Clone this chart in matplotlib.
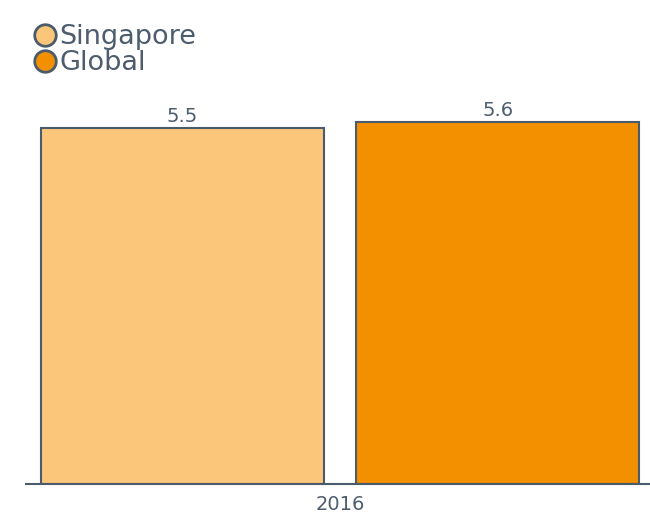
import matplotlib.pyplot as plt
from matplotlib.lines import Line2D

# data
categories = ['2016']
series_names = ['Singapore', 'Global']
series_values = [[5.5], [5.6]]
series_colors = ['#FBC67A', '#F39000']

edge_col = '#4A5B6C'
text_col = '#4D5D6E'

fig = plt.figure(figsize=(6.5, 5.16), dpi=100)
# axes runs a bit past the right edge, like the reference
ax = fig.add_axes([26 / 650, 1 - 484 / 516, 628 / 650, 384 / 516])

bar_w = 0.45
offsets = [-0.251, 0.251]
for name, vals, col, off in zip(series_names, series_values, series_colors, offsets):
    xs = [i + off for i in range(len(categories))]
    bars = ax.bar(xs, vals, width=bar_w, color=col, edgecolor=edge_col, linewidth=1.5)
    for b, v in zip(bars, vals):
        ax.text(b.get_x() + b.get_width() / 2, v + 0.03, str(v), ha='center', va='bottom',
                fontsize=14, color=text_col)

ax.set_xlim(-0.5, 0.5)
ax.set_ylim(0, 384 / 64.7)
ax.set_xticks(range(len(categories)))
ax.set_xticklabels(categories, fontsize=14, color=text_col)
ax.tick_params(axis='x', length=0, pad=8)
ax.set_yticks([])
for s in ['top', 'right', 'left']:
    ax.spines[s].set_visible(False)
ax.spines['bottom'].set_color(edge_col)
ax.spines['bottom'].set_linewidth(1.5)

handles = [Line2D([], [], marker='o', linestyle='', markersize=15.5, markerfacecolor=c,
                  markeredgecolor=edge_col, markeredgewidth=2) for c in series_colors]
leg = fig.legend(handles, series_names, loc='upper left', bbox_to_anchor=(0.02, 0.99),
                 frameon=False, fontsize=19.5, handletextpad=0.0, labelspacing=0.0,
                 borderpad=0.2, handlelength=1.0)
for t in leg.get_texts():
    t.set_color(text_col)

fig.savefig('out.png', dpi=100)
